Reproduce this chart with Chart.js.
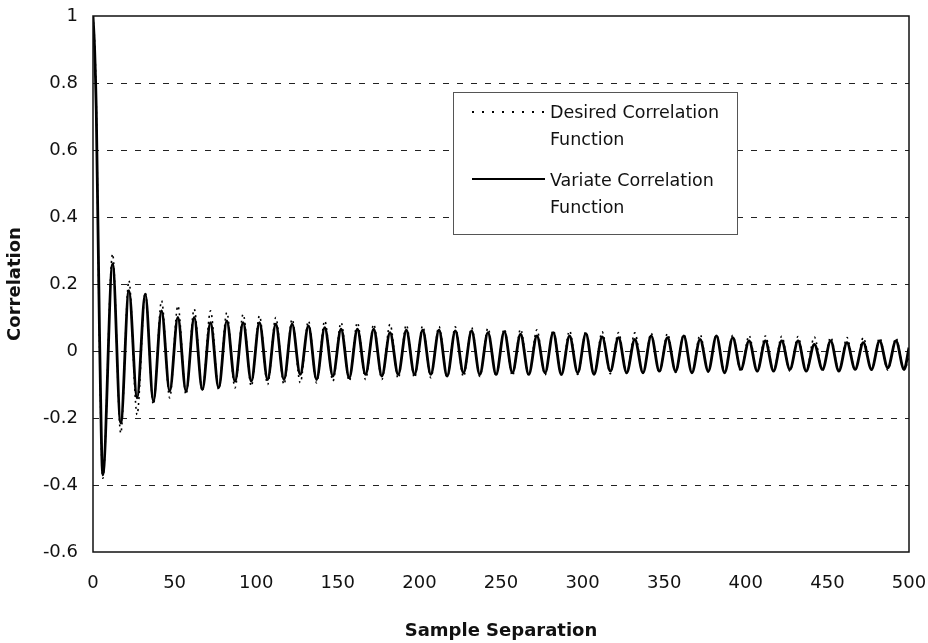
<!DOCTYPE html>
<html>
<head>
<meta charset="utf-8">
<script src="https://cdn.jsdelivr.net/npm/chart.js@4.4.1/dist/chart.umd.min.js"></script>
<style>
  html, body { margin: 0; padding: 0; background: #fff; }
  #wrap { width: 928px; height: 643px; position: relative; }
</style>
</head>
<body>
<div id="wrap"><canvas id="corr"></canvas></div>
<script>
// sample separation (lag) at each read-off point: start, then peaks / troughs
const lags = [0, 1, 2, 4, 6,
  12, 17, 22, 27, 32, 37, 42, 47, 52, 57, 62, 67, 72, 77, 82, 87, 92, 97,
  102, 107, 112, 117, 122, 127, 132, 137, 142, 147, 152, 157, 162, 167, 172, 177, 182, 187, 192, 197,
  202, 207, 212, 217, 222, 227, 232, 237, 242, 247, 252, 257, 262, 267, 272, 277, 282, 287, 292, 297,
  302, 307, 312, 317, 322, 327, 332, 337, 342, 347, 352, 357, 362, 367, 372, 377, 382, 387, 392, 397,
  402, 407, 412, 417, 422, 427, 432, 437, 442, 447, 452, 457, 462, 467, 472, 477, 482, 487, 492, 497,
  500];

const desired = [1, 0.92, 0.74, 0.02, -0.38,
  0.29, -0.245, 0.21, -0.19, 0.175, -0.16, 0.15, -0.14, 0.135, -0.13, 0.125, -0.12, 0.12, -0.115, 0.115, -0.11, 0.11, -0.105,
  0.105, -0.1, 0.1, -0.1, 0.095, -0.095, 0.09, -0.095, 0.09, -0.09, 0.085, -0.09, 0.085, -0.085, 0.08, -0.085, 0.08, -0.082, 0.078, -0.08,
  0.075, -0.08, 0.073, -0.078, 0.072, -0.077, 0.07, -0.076, 0.068, -0.075, 0.066, -0.074, 0.065, -0.073, 0.063, -0.072, 0.062, -0.071, 0.06, -0.07,
  0.058, -0.069, 0.057, -0.068, 0.055, -0.067, 0.054, -0.066, 0.053, -0.065, 0.052, -0.064, 0.05, -0.064, 0.049, -0.063, 0.048, -0.062, 0.047, -0.062,
  0.046, -0.061, 0.045, -0.06, 0.044, -0.06, 0.043, -0.059, 0.042, -0.059, 0.041, -0.058, 0.04, -0.058, 0.04, -0.057, 0.039, -0.057, 0.038, -0.056,
  -0.02];

const variate = [1, 0.9, 0.72, 0.05, -0.37,
  0.26, -0.215, 0.18, -0.14, 0.17, -0.15, 0.12, -0.12, 0.1, -0.12, 0.1, -0.115, 0.085, -0.11, 0.09, -0.09, 0.085, -0.09,
  0.085, -0.085, 0.08, -0.085, 0.08, -0.07, 0.075, -0.085, 0.07, -0.075, 0.065, -0.08, 0.065, -0.07, 0.065, -0.075, 0.055, -0.07, 0.062, -0.07,
  0.062, -0.07, 0.062, -0.075, 0.06, -0.065, 0.06, -0.07, 0.055, -0.07, 0.058, -0.065, 0.05, -0.07, 0.045, -0.065, 0.055, -0.07, 0.045, -0.065,
  0.052, -0.07, 0.042, -0.06, 0.04, -0.065, 0.035, -0.065, 0.045, -0.06, 0.04, -0.06, 0.045, -0.065, 0.035, -0.06, 0.045, -0.065, 0.04, -0.055,
  0.03, -0.06, 0.03, -0.06, 0.03, -0.055, 0.03, -0.06, 0.02, -0.055, 0.03, -0.06, 0.025, -0.055, 0.025, -0.055, 0.03, -0.05, 0.03, -0.055,
  0.01];

const xTicks = [0, 50, 100, 150, 200, 250, 300, 350, 400, 450, 500];
const yTicks = [-0.6, -0.4, -0.2, 0, 0.2, 0.4, 0.6, 0.8, 1];
const keyLines = [['Desired Correlation', 'Function'], ['Variate Correlation', 'Function']];

const toPoints = vals => lags.map((x, i) => ({ x, y: vals[i] }));

// plot frame + boxed key drawn inside the plot, like the original
const frameAndKey = {
  id: 'frameAndKey',
  afterDatasetsDraw(chart) {
    const { ctx, chartArea: a } = chart;
    ctx.save();
    ctx.strokeStyle = '#111';
    ctx.lineWidth = 1.5;
    ctx.strokeRect(a.left, a.top, a.right - a.left, a.bottom - a.top);

    const bx = a.left + 360, by = a.top + 76, bw = 284, bh = 142;
    ctx.fillStyle = '#fff';
    ctx.fillRect(bx, by, bw, bh);
    ctx.lineWidth = 1;
    ctx.strokeStyle = '#555';
    ctx.strokeRect(bx + 0.5, by + 0.5, bw, bh);

    chart.data.datasets.forEach((ds, i) => {
      const ly = by + 20 + i * 67;
      ctx.beginPath();
      ctx.setLineDash(i === 0 ? [2, 8] : []);
      ctx.lineWidth = i === 0 ? 2 : 2.2;
      ctx.strokeStyle = '#000';
      ctx.moveTo(bx + 19, ly);
      ctx.lineTo(bx + 92, ly);
      ctx.stroke();
      ctx.setLineDash([]);
      ctx.fillStyle = '#111';
      ctx.font = '17.5px "DejaVu Sans"';
      ctx.textBaseline = 'alphabetic';
      ctx.textAlign = 'left';
      keyLines[i].forEach((t, j) => ctx.fillText(t, bx + 97, by + 26 + i * 68 + j * 27));
    });
    ctx.restore();
  }
};

new Chart(document.getElementById('corr'), {
  type: 'line',
  data: {
    datasets: [
      {
        label: 'Desired Correlation Function',
        data: toPoints(desired),
        borderColor: '#000',
        borderWidth: 1.6,
        borderDash: [2, 4],
        pointRadius: 0,
        cubicInterpolationMode: 'monotone'
      },
      {
        label: 'Variate Correlation Function',
        data: toPoints(variate),
        borderColor: '#000',
        borderWidth: 2.8,
        pointRadius: 0,
        cubicInterpolationMode: 'monotone'
      }
    ]
  },
  options: {
    responsive: true,
    maintainAspectRatio: false,
    animation: false,
    layout: { padding: { top: 16, right: 19, left: 0, bottom: 0 } },
    plugins: {
      legend: { display: false },
      tooltip: { enabled: false }
    },
    scales: {
      x: {
        type: 'linear',
        min: 0,
        max: 500,
        afterBuildTicks: s => { s.ticks = xTicks.map(value => ({ value })); },
        afterFit: s => { s.height = 91; s.paddingLeft = 0; s.paddingRight = 0; },
        grid: { display: false, drawTicks: false },
        border: { display: false },
        ticks: {
          autoSkip: false,
          maxRotation: 0,
          padding: 21,
          color: '#111',
          font: { family: 'DejaVu Sans', size: 18 }
        },
        title: {
          display: true,
          text: 'Sample Separation',
          color: '#111',
          padding: { top: 0, bottom: 1 },
          font: { family: 'DejaVu Sans', size: 18, weight: 'bold' }
        }
      },
      y: {
        min: -0.6,
        max: 1,
        afterBuildTicks: s => { s.ticks = yTicks.map(value => ({ value })); },
        afterFit: s => { s.width = 93; s.paddingTop = 0; s.paddingBottom = 0; },
        grid: {
          drawTicks: false,
          lineWidth: 1,
          color: c => (c.tick.value <= -0.6 || c.tick.value >= 1) ? 'rgba(0,0,0,0)' : '#222'
        },
        border: { display: false, dash: [6, 8] },
        ticks: {
          padding: 15,
          color: '#111',
          font: { family: 'DejaVu Sans', size: 18 },
          callback: v => String(parseFloat(Number(v).toFixed(1)))
        },
        title: {
          display: true,
          text: 'Correlation',
          color: '#111',
          padding: { top: 5, bottom: 0 },
          font: { family: 'DejaVu Sans', size: 18, weight: 'bold' }
        }
      }
    }
  },
  plugins: [frameAndKey]
});
</script>
</body>
</html>
